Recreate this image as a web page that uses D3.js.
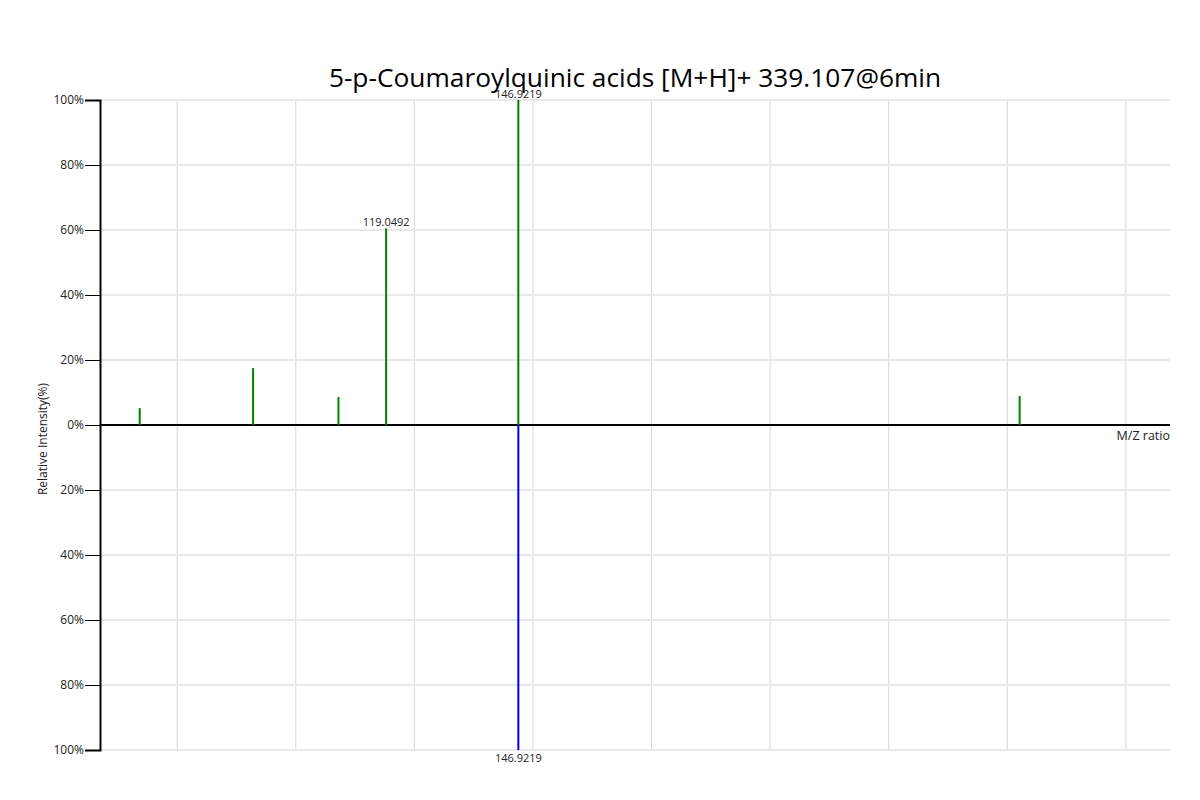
<!DOCTYPE html>
<html><head><meta charset="utf-8">
<script src="https://cdn.jsdelivr.net/npm/d3@7"></script>
<style>body{margin:0;background:#fff;font-family:"Open Sans",sans-serif;}</style>
</head><body><svg id="c" width="1200" height="800"></svg>
<script>
const title = "5-p-Coumaroylquinic acids [M+H]+ 339.107@6min";
const mzUpper = [67.1, 91.0, 109.0, 119.0492, 146.9219, 252.6];
const intUpper = [5.2, 17.5, 8.6, 60.5, 100, 8.9];
const labelUpper = ["", "", "", "119.0492", "146.9219", ""];
const mzLower = [146.9219];
const intLower = [100];
const labelLower = ["146.9219"];
const xGrid = [75, 100, 125, 150, 175, 200, 225, 250, 275];
const yTicks = [100, 80, 60, 40, 20, 0, -20, -40, -60, -80, -100];

const svg = d3.select("#c");
const L = 100, R = 1170, T = 100, B = 750;
const x = d3.scaleLinear().domain([58.73, 284.3]).range([L, R]);
const y = d3.scaleLinear().domain([-100, 100]).range([B, T]);

// grid
svg.append("g").selectAll("line").data(xGrid).join("line")
  .attr("x1", d => x(d)).attr("x2", d => x(d)).attr("y1", T).attr("y2", B)
  .attr("stroke", "#d6d6d6").attr("stroke-width", 1);
svg.append("g").selectAll("line").data(yTicks.filter(d => d !== 0)).join("line")
  .attr("x1", L).attr("x2", R).attr("y1", d => y(d)).attr("y2", d => y(d))
  .attr("stroke", "#e9e9e9").attr("stroke-width", 2);

// y axis
const ya = svg.append("g").attr("transform", `translate(${L},0)`)
  .call(d3.axisLeft(y).tickValues(yTicks).tickSize(15).tickPadding(1)
    .tickFormat(d => Math.abs(d) + "%"));
ya.select(".domain").attr("stroke", "#000").attr("stroke-width", 2);
ya.selectAll(".tick line").attr("stroke", "#000");
ya.selectAll(".tick text").attr("font-family", "Open Sans, sans-serif").attr("font-size", 12).attr("fill", "#222");

// zero axis
svg.append("line").attr("x1", L).attr("x2", R).attr("y1", y(0)).attr("y2", y(0))
  .attr("stroke", "#000").attr("stroke-width", 2);

// peaks
const up = mzUpper.map((m, i) => ({m, v: intUpper[i], l: labelUpper[i]}));
svg.append("g").selectAll("line").data(up).join("line")
  .attr("x1", d => x(d.m)).attr("x2", d => x(d.m)).attr("y1", y(0)).attr("y2", d => y(d.v))
  .attr("stroke", "#008000").attr("stroke-width", 2);
svg.append("g").selectAll("text").data(up.filter(d => d.l)).join("text")
  .attr("x", d => x(d.m)).attr("y", d => y(d.v) - 2).attr("text-anchor", "middle")
  .attr("font-size", 11).attr("fill", "#222").text(d => d.l);

const lo = mzLower.map((m, i) => ({m, v: intLower[i], l: labelLower[i]}));
svg.append("g").selectAll("line").data(lo).join("line")
  .attr("x1", d => x(d.m)).attr("x2", d => x(d.m)).attr("y1", y(0)).attr("y2", d => y(-d.v))
  .attr("stroke", "#0000ff").attr("stroke-width", 2);
svg.append("g").selectAll("text").data(lo).join("text")
  .attr("x", d => x(d.m)).attr("y", d => y(-d.v) + 12).attr("text-anchor", "middle")
  .attr("font-size", 11).attr("fill", "#222").text(d => d.l);

// labels
svg.append("text").attr("x", R).attr("y", y(0) + 15).attr("text-anchor", "end")
  .attr("font-size", 12.5).attr("fill", "#222").text("M/Z ratio");
svg.append("text").attr("transform", `translate(47,${y(0) + 14}) rotate(-90)`)
  .attr("text-anchor", "middle").attr("font-size", 12).attr("fill", "#222").text("Relative Intensity(%)");
svg.append("text").attr("x", (L + R) / 2).attr("y", 87).attr("text-anchor", "middle")
  .attr("font-size", 26.3).attr("fill", "#000").text(title);
</script></body></html>
